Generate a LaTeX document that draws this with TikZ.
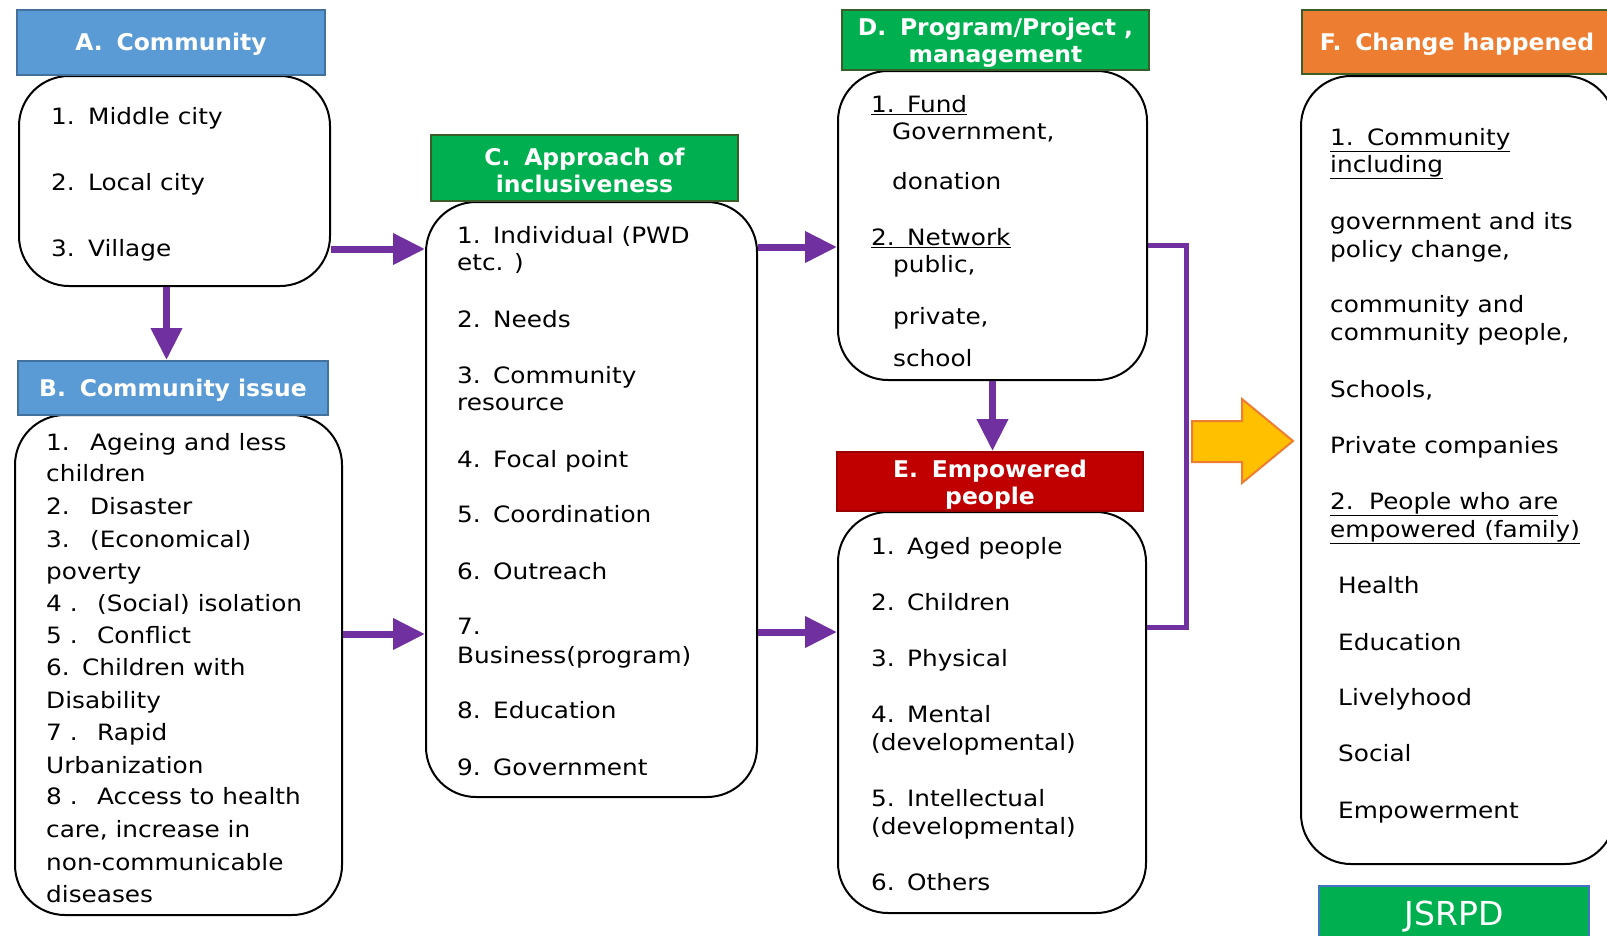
\documentclass[tikz,border=0pt]{standalone}
\usepackage{fontspec}
\setmainfont{DejaVu Sans}
\newfontfamily\bodyfont{DejaVu Sans}[FakeStretch=1.1]
\newfontfamily\headfont{DejaVu Sans}[FakeStretch=1.02]
\usetikzlibrary{arrows.meta,calc}
\definecolor{hblue}{HTML}{5B9BD5}
\definecolor{hblueb}{HTML}{41719C}
\definecolor{hgreen}{HTML}{00B050}
\definecolor{hgreenb}{HTML}{3A5E2A}
\definecolor{hred}{HTML}{C00000}
\definecolor{horange}{HTML}{ED7D31}
\definecolor{pur}{HTML}{7030A0}
\definecolor{yel}{HTML}{FFC000}
\definecolor{jblue}{HTML}{4472C4}
\newcommand\nm[2]{\makebox[#1pt][l]{#2}}
\begin{document}
\begin{tikzpicture}[x=1pt,y=-1pt,
  head/.style={rectangle, line width=2pt, inner sep=0pt},
  htext/.style={inner sep=0pt, text=white,
    font=\headfont\fontsize{23}{27}\selectfont\bfseries, align=center},
  rbox/.style={draw=black, line width=2pt, rounded corners=50pt, inner sep=0pt, fill=white},
  bt/.style={anchor=base west, inner sep=0pt, font=\bodyfont\fontsize{22.5}{27}\selectfont},
  parrow/.style={draw=pur, line width=7pt, -{Triangle[length=32pt,width=30pt]}},
  bracketline/.style={draw=pur, line width=5pt},
  bigarrow/.style={fill=yel, draw=horange, line width=2pt}
]
\useasboundingbox (0,0) rectangle (1607,935);

% ---------- boxes ----------
\node[rbox, minimum width=311pt, minimum height=210pt] (boxA) at (174.5,181) {};
\node[head, fill=hblue, draw=hblueb, minimum width=308pt, minimum height=65pt] (hA) at (171,42.5) {};
\node[htext] (hAt) at ($(hA.center)+(0,2)$) {A.\hspace{0.6em}Community};

\node[rbox, minimum width=327pt, minimum height=500pt] (boxB) at (178.5,665) {};
\node[head, fill=hblue, draw=hblueb, minimum width=310pt, minimum height=54pt] (hB) at (173,388) {};
\node[htext] (hBt) at ($(hB.center)+(0,2)$) {B.\hspace{0.6em}Community issue};

\node[rbox, minimum width=331pt, minimum height=595pt] (boxC) at (591.5,499.5) {};
\node[head, fill=hgreen, draw=hgreenb, minimum width=307pt, minimum height=66pt] (hC) at (584.5,168) {};
\node[htext] (hCt) at ($(hC.center)+(0,2)$) {C.\hspace{0.6em}Approach of\\inclusiveness};

\node[rbox, minimum width=309pt, minimum height=309pt] (boxD) at (992.5,225.5) {};
\node[head, fill=hgreen, draw=hgreenb, minimum width=307pt, minimum height=60pt] (hD) at (995.5,40) {};
\node[htext] (hDt) at ($(hD.center)+(0,3)$) {D.\hspace{0.6em}Program/Project ,\\management};

\node[rbox, minimum width=308pt, minimum height=401pt] (boxE) at (992,712.5) {};
\node[head, fill=hred, draw=hred!80!black, minimum width=306pt, minimum height=59pt] (hE) at (990,481.5) {};
\node[htext] (hEt) at ($(hE.center)+(0,3)$) {E.\hspace{0.6em}Empowered\\people};

\node[rbox, minimum width=314pt, minimum height=788pt] (boxF) at (1458,470) {};
\node[head, fill=horange, draw=hgreenb, minimum width=310pt, minimum height=64pt] (hF) at (1457,42) {};
\node[htext] (hFt) at ($(hF.center)+(0,2)$) {F.\hspace{0.6em}Change happened};

\node[head, fill=hgreen, draw=jblue, minimum width=270pt, minimum height=64pt] (jsrpd) at (1454,918) {};
\node[anchor=base, inner sep=0pt, text=white, font=\fontsize{33}{36}\selectfont] (jsrpdtext) at (1454,925) {JSRPD};

% ---------- texts A ----------
\node[bt] (a1) at (51,124) {\nm{37}{1.}Middle city};
\node[bt] (a2) at (51,190) {\nm{37}{2.}Local city};
\node[bt] (a3) at (51,256) {\nm{37}{3.}Village};

% ---------- texts B ----------
\node[bt] (b1) at (46,450) {\nm{44}{1.}Ageing and less};
\node[bt] (b1b) at (46,481) {children};
\node[bt] (b2) at (46,514) {\nm{44}{2.}Disaster};
\node[bt] (b3) at (46,547) {\nm{44}{3.}(Economical)};
\node[bt] (b3b) at (46,579) {poverty};
\node[bt] (b4) at (46,611) {\nm{51}{4 .}(Social) isolation};
\node[bt] (b5) at (46,643) {\nm{51}{5 .}Conflict};
\node[bt] (b6) at (46,675) {\nm{36}{6.}Children with};
\node[bt] (b6b) at (46,708) {Disability};
\node[bt] (b7) at (46,740) {\nm{51}{7 .}Rapid};
\node[bt] (b7b) at (46,773) {Urbanization};
\node[bt] (b8) at (46,804) {\nm{51}{8 .}Access to health};
\node[bt] (b8b) at (46,837) {care, increase in};
\node[bt] (b8c) at (46,870) {non-communicable};
\node[bt] (b8d) at (46,902) {diseases};

% ---------- texts C ----------
\node[bt] (c1) at (457,243) {\nm{36}{1.}Individual (PWD};
\node[bt] (c1b) at (457,270) {etc. )};
\node[bt] (c2) at (457,327) {\nm{36}{2.}Needs};
\node[bt] (c3) at (457,383) {\nm{36}{3.}Community};
\node[bt] (c3b) at (457,410) {resource};
\node[bt] (c4) at (457,467) {\nm{36}{4.}Focal point};
\node[bt] (c5) at (457,522) {\nm{36}{5.}Coordination};
\node[bt] (c6) at (457,579) {\nm{36}{6.}Outreach};
\node[bt] (c7) at (457,634) {7.};
\node[bt] (c7b) at (457,663) {Business(program)};
\node[bt] (c8) at (457,718) {\nm{36}{8.}Education};
\node[bt] (c9) at (457,775) {\nm{36}{9.}Government};

% ---------- texts D ----------
\node[bt] (d1) at (871,112) {\underline{\nm{36}{1.}Fund}};
\node[bt] (d1a) at (892,139) {Government,};
\node[bt] (d1b) at (892,189) {donation};
\node[bt] (d2) at (871,245) {\underline{\nm{36}{2.}Network}};
\node[bt] (d2a) at (893,272) {public,};
\node[bt] (d2b) at (893,324) {private,};
\node[bt] (d2c) at (893,366) {school};

% ---------- texts E ----------
\node[bt] (e1) at (871,554) {\nm{36}{1.}Aged people};
\node[bt] (e2) at (871,610) {\nm{36}{2.}Children};
\node[bt] (e3) at (871,666) {\nm{36}{3.}Physical};
\node[bt] (e4) at (871,722) {\nm{36}{4.}Mental};
\node[bt] (e4b) at (871,750) {(developmental)};
\node[bt] (e5) at (871,806) {\nm{36}{5.}Intellectual};
\node[bt] (e5b) at (871,834) {(developmental)};
\node[bt] (e6) at (871,890) {\nm{36}{6.}Others};

% ---------- texts F ----------
\node[bt] (f1) at (1330,145) {\underline{\nm{37}{1.}Community}};
\node[bt] (f1b) at (1330,172) {\underline{including}};
\node[bt] (f2) at (1330,229) {government and its};
\node[bt] (f2b) at (1330,257) {policy change,};
\node[bt] (f3) at (1330,312) {community and};
\node[bt] (f3b) at (1330,340) {community people,};
\node[bt] (f4) at (1330,397) {Schools,};
\node[bt] (f5) at (1330,453) {Private companies};
\node[bt] (f6) at (1330,509) {\underline{\nm{39}{2.}People who are}};
\node[bt] (f6b) at (1330,537) {\underline{empowered (family)}};
\node[bt] (f7) at (1338,593) {Health};
\node[bt] (f8) at (1338,650) {Education};
\node[bt] (f9) at (1338,705) {Livelyhood};
\node[bt] (f10) at (1338,761) {Social};
\node[bt] (f11) at (1338,818) {Empowerment};

% ---------- connectors ----------
\coordinate (yAC) at (0,249);
\coordinate (yBC) at (0,634);
\coordinate (yCD) at (0,247);
\coordinate (yCE) at (0,632);
\coordinate (br1) at (1186,245);
\coordinate (br2) at (1186,627);

\draw[parrow] (boxA.east |- yAC) -- (boxC.west |- yAC);
\draw[parrow] ([xshift=-8pt]boxA.south) -- ([xshift=-8pt]boxA.south |- hB.north);
\draw[parrow] (boxB.east |- yBC) -- (boxC.west |- yBC);
\draw[parrow] (boxC.east |- yCD) -- (boxD.west |- yCD);
\draw[parrow] (boxC.east |- yCE) -- (boxE.west |- yCE);
\draw[parrow] (boxD.south) -- (boxD.south |- hE.north);
\draw[bracketline] (boxD.east |- br1) -- (br1) -- (br2) -- (boxE.east |- br2);

% big yellow arrow
\draw[bigarrow] (1192,421) -- (1242,421) -- (1242,399) -- (1293,441) -- (1242,483) -- (1242,462) -- (1192,462) -- cycle;
\end{tikzpicture}
\end{document}
